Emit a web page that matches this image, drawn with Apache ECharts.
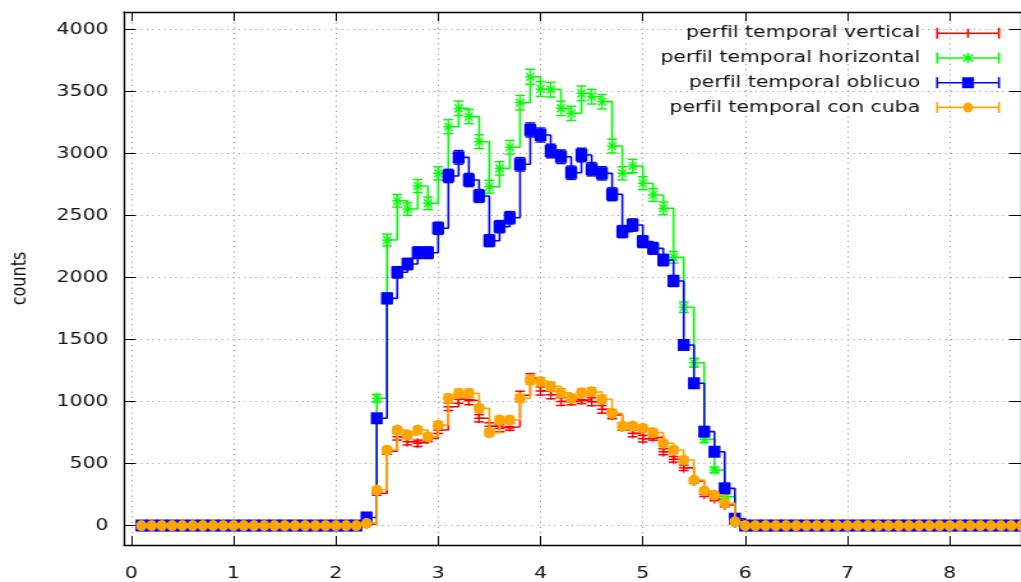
<!DOCTYPE html>
<html lang="es">
<head>
<meta charset="UTF-8">
<title>perfil temporal</title>
<script src="https://cdn.jsdelivr.net/npm/echarts@6/dist/echarts.min.js"></script>
<style>
  html, body { margin: 0; padding: 0; background: #fff; overflow: hidden; }
  /* the original plot was drawn at 800 px wide and stretched to 1021 */
  #main { width: 800px; height: 582px; transform: scaleX(1.27625); transform-origin: 0 0; }
</style>
</head>
<body>
<div id="main"></div>
<script>
var stretch = 1021 / 800;

var time = [
  0.1, 0.2, 0.3, 0.4, 0.5, 0.6, 0.7, 0.8, 0.9, 1.0,
  1.1, 1.2, 1.3, 1.4, 1.5, 1.6, 1.7, 1.8, 1.9, 2.0,
  2.1, 2.2, 2.3, 2.4, 2.5, 2.6, 2.7, 2.8, 2.9, 3.0,
  3.1, 3.2, 3.3, 3.4, 3.5, 3.6, 3.7, 3.8, 3.9, 4.0,
  4.1, 4.2, 4.3, 4.4, 4.5, 4.6, 4.7, 4.8, 4.9, 5.0,
  5.1, 5.2, 5.3, 5.4, 5.5, 5.6, 5.7, 5.8, 5.9, 6.0,
  6.1, 6.2, 6.3, 6.4, 6.5, 6.6, 6.7, 6.8, 6.9, 7.0,
  7.1, 7.2, 7.3, 7.4, 7.5, 7.6, 7.7, 7.8, 7.9, 8.0,
  8.1, 8.2, 8.3, 8.4, 8.5, 8.6, 8.7
];

var vertical = [
  0, 0, 0, 0, 0, 0, 0, 0, 0, 0,
  0, 0, 0, 0, 0, 0, 0, 0, 0, 0,
  0, 0, 15, 260, 600, 716, 676, 663, 703, 770,
  958, 1018, 1006, 865, 800, 784, 797, 1050, 1190, 1085,
  1055, 1000, 1005, 1015, 998, 937, 891, 796, 743, 700,
  715, 595, 534, 465, 360, 250, 215, 165, 20, 0,
  0, 0, 0, 0, 0, 0, 0, 0, 0, 0,
  0, 0, 0, 0, 0, 0, 0, 0, 0, 0,
  0, 0, 0, 0, 0, 0, 0
];

var horizontal = [
  0, 0, 0, 0, 0, 0, 0, 0, 0, 0,
  0, 0, 0, 0, 0, 0, 0, 0, 0, 0,
  0, 0, 20, 1026, 2302, 2619, 2552, 2738, 2598, 2840,
  3216, 3364, 3297, 3095, 2732, 2880, 3050, 3410, 3619, 3520,
  3515, 3364, 3324, 3485, 3458, 3418, 3060, 2840, 2899, 2760,
  2665, 2558, 2163, 1760, 1313, 695, 448, 232, 25, 0,
  0, 0, 0, 0, 0, 0, 0, 0, 0, 0,
  0, 0, 0, 0, 0, 0, 0, 0, 0, 0,
  0, 0, 0, 0, 0, 0, 0
];

var oblicuo = [
  0, 0, 0, 0, 0, 0, 0, 0, 0, 0,
  0, 0, 0, 0, 0, 0, 0, 0, 0, 0,
  0, 0, 65, 865, 1832, 2042, 2109, 2200, 2200, 2397,
  2819, 2969, 2786, 2657, 2297, 2410, 2482, 2913, 3190, 3149,
  3020, 2974, 2845, 2988, 2873, 2840, 2671, 2370, 2423, 2289,
  2235, 2141, 1972, 1456, 1147, 757, 595, 300, 55, 0,
  0, 0, 0, 0, 0, 0, 0, 0, 0, 0,
  0, 0, 0, 0, 0, 0, 0, 0, 0, 0,
  0, 0, 0, 0, 0, 0, 0
];

var conCuba = [
  0, 0, 0, 0, 0, 0, 0, 0, 0, 0,
  0, 0, 0, 0, 0, 0, 0, 0, 0, 0,
  0, 0, 18, 286, 609, 770, 730, 770, 716, 810,
  1026, 1066, 1066, 945, 749, 851, 851, 1026, 1173, 1160,
  1122, 1071, 1026, 1071, 1079, 1018, 905, 802, 802, 784,
  749, 663, 609, 528, 367, 281, 246, 179, 31, 0,
  0, 0, 0, 0, 0, 0, 0, 0, 0, 0,
  0, 0, 0, 0, 0, 0, 0, 0, 0, 0,
  0, 0, 0, 0, 0, 0, 0
];

var xTicks = [0, 1, 2, 3, 4, 5, 6, 7, 8];
var yTicks = [0, 500, 1000, 1500, 2000, 2500, 3000, 3500, 4000];

var font = 'DejaVu Sans';
var textColor = '#111';

// markers, in screen pixels (the group is squeezed by 1/stretch)
function lineEl(x1, y1, x2, y2, c) {
  return { type: 'line', shape: { x1: x1, y1: y1, x2: x2, y2: y2 }, style: { stroke: c, lineWidth: 1.5 } };
}
var markers = {
  plus: function (c) { return [lineEl(-5, 0, 5, 0, c), lineEl(0, -5, 0, 5, c)]; },
  star: function (c) {
    return [lineEl(-5, 0, 5, 0, c), lineEl(0, -5.5, 0, 5.5, c),
            lineEl(-4, -4, 4, 4, c), lineEl(-4, 4, 4, -4, c)];
  },
  square: function (c) { return [{ type: 'rect', shape: { x: -6, y: -6, width: 12, height: 12 }, style: { fill: c } }]; },
  circle: function (c) { return [{ type: 'circle', shape: { cx: 0, cy: 0, r: 5.5 }, style: { fill: c } }]; }
};

// legend samples: error bar with caps and the marker in the middle (legend units)
var iconBar = 'M0 4.7H50V6.3H0Z M0 0H1.6V11H0Z M48.4 0H50V11H48.4Z';
var icons = {
  plus: 'path://' + iconBar + ' M24.2 1H25.8V10H24.2Z',
  star: 'path://' + iconBar + ' M24.2 0.5H25.8V10.5H24.2Z M21.63 1.4L29.43 8.4L28.37 9.6L20.57 2.6Z M20.57 8.4L28.37 1.4L29.43 2.6L21.63 9.6Z',
  square: 'path://' + iconBar + ' M20.3 0H29.7V11H20.3Z',
  circle: 'path://' + iconBar + ' M25 0.5C27.15 0.5 28.9 2.74 28.9 5.5C28.9 8.26 27.15 10.5 25 10.5C22.85 10.5 21.1 8.26 21.1 5.5C21.1 2.74 22.85 0.5 25 0.5Z'
};

var profiles = [
  { name: 'perfil temporal vertical', values: vertical, color: '#ff0000', marker: 'plus' },
  { name: 'perfil temporal horizontal', values: horizontal, color: '#00ff00', marker: 'star' },
  { name: 'perfil temporal oblicuo', values: oblicuo, color: '#0000ff', marker: 'square' },
  { name: 'perfil temporal con cuba', values: conCuba, color: '#ffa500', marker: 'circle' }
];

var series = [];
profiles.forEach(function (p, k) {
  var pairs = time.map(function (t, i) { return [t, p.values[i]]; });
  series.push({
    name: p.name + ' (pasos)',
    type: 'line',
    step: 'end',
    data: pairs,
    showSymbol: false,
    silent: true,
    z: 2 + k * 2,
    lineStyle: { color: p.color, width: 1.6 }
  });
  series.push({
    name: p.name,
    type: 'custom',
    clip: true,
    z: 3 + k * 2,
    data: pairs,
    encode: { x: 0, y: 1 },
    itemStyle: { color: p.color },
    renderItem: function (params, api) {
      var t = api.value(0), v = api.value(1);
      var err = Math.sqrt(v); // poisson error of the counts
      var pt = api.coord([t, v]);
      var top = api.coord([t, v + err])[1] - pt[1];
      var bot = api.coord([t, v - err])[1] - pt[1];
      var kids = [lineEl(0, top, 0, bot, p.color), lineEl(-5, top, 5, top, p.color), lineEl(-5, bot, 5, bot, p.color)]
        .concat(markers[p.marker](p.color));
      return { type: 'group', x: pt[0], y: pt[1], scaleX: 1 / stretch, children: kids };
    }
  });
});

var chart = echarts.init(document.getElementById('main'));

var borderLine = { show: true, onZero: false, lineStyle: { color: '#000', width: 1.3 } };
var xRange = { min: -0.0722, max: 8.696 };
var yRange = { min: -157, max: 4141 };
var plain = function (v) { return String(v); };

chart.setOption({
  animation: false,
  grid: { left: 96.6, right: -0.8, top: 12, bottom: 36.7 },
  legend: {
    orient: 'vertical',
    right: 16.5,
    top: 23.3,
    align: 'right',
    padding: 0,
    itemWidth: 50,
    itemHeight: 11,
    itemGap: 4.7,
    selectedMode: false,
    itemStyle: { borderWidth: 0 },
    textStyle: { fontFamily: font, fontSize: 16, color: textColor, lineHeight: 20, padding: [0, 7.5, 0, 0] },
    data: profiles.map(function (p) { return { name: p.name, icon: icons[p.marker] }; })
  },
  xAxis: [
    {
      type: 'value', position: 'bottom', min: xRange.min, max: xRange.max,
      axisLine: borderLine,
      axisTick: { inside: true, length: 9, customValues: xTicks, lineStyle: { color: '#000', width: 1 } },
      axisLabel: { customValues: xTicks, formatter: plain, margin: 21, fontFamily: font, fontSize: 16, color: textColor },
      splitLine: { show: true, lineStyle: { color: '#999', width: 1, type: [1.2, 4] } }
    },
    {
      type: 'value', position: 'top', min: xRange.min, max: xRange.max,
      axisLine: borderLine,
      axisTick: { inside: true, length: 9, customValues: xTicks, lineStyle: { color: '#000', width: 1 } },
      axisLabel: { show: false },
      splitLine: { show: false }
    }
  ],
  yAxis: [
    {
      type: 'value', position: 'left', min: yRange.min, max: yRange.max,
      name: 'counts', nameLocation: 'middle', nameGap: 73,
      nameTextStyle: { fontFamily: font, fontSize: 16, color: textColor },
      axisLine: borderLine,
      axisTick: { inside: true, length: 9.2, customValues: yTicks, lineStyle: { color: '#000', width: 1 } },
      axisLabel: { customValues: yTicks, formatter: plain, margin: 12, fontFamily: font, fontSize: 16, color: textColor },
      splitLine: { show: true, lineStyle: { color: '#999', width: 1, type: [1, 3.5] } }
    },
    {
      type: 'value', position: 'right', min: yRange.min, max: yRange.max,
      axisLine: borderLine,
      axisTick: { inside: true, length: 9.2, customValues: yTicks, lineStyle: { color: '#000', width: 1 } },
      axisLabel: { show: false },
      splitLine: { show: false }
    }
  ],
  series: series
});
</script>
</body>
</html>
